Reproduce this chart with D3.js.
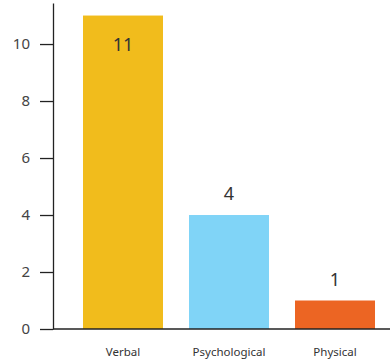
<!DOCTYPE html>
<html>
<head>
<meta charset="utf-8">
<script src="https://cdn.jsdelivr.net/npm/d3@7"></script>
<style>
  body { margin: 0; background: #fff; }
  svg { display: block; font-family: "Noto Sans", sans-serif; }
</style>
</head>
<body>
<div id="chart"></div>
<script>
  var categories = ['Verbal', 'Psychological', 'Physical'];
  var values = [11, 4, 1];
  var colors = ['#f1bc1c', '#80d4f7', '#ec6523'];
  var yTicks = [0, 2, 4, 6, 8, 10];

  var width = 390;
  var height = 364;
  var axisX = 53;       // y axis position
  var baseY = 329;      // zero line

  var svg = d3.select('#chart')
    .append('svg')
    .attr('width', width)
    .attr('height', height);

  var x = d3.scaleBand()
    .domain(categories)
    .range([70, 388])
    .paddingInner(0.2453)
    .paddingOuter(0.1226);

  var y = d3.scaleLinear()
    .domain([0, 11.44])
    .range([baseY, 3]);

  // bars
  svg.selectAll('rect.bar')
    .data(values)
    .enter()
    .append('rect')
    .attr('class', 'bar')
    .attr('x', function(d, i) { return x(categories[i]); })
    .attr('y', function(d) { return y(d); })
    .attr('width', x.bandwidth())
    .attr('height', function(d) { return y(0) - y(d); })
    .attr('fill', function(d, i) { return colors[i]; });

  // value labels (inside the bar when it reaches the top)
  svg.selectAll('text.val')
    .data(values)
    .enter()
    .append('text')
    .attr('class', 'val')
    .attr('x', function(d, i) { return x(categories[i]) + x.bandwidth() / 2; })
    .attr('y', function(d) { return y(d) < 30 ? y(d) + 35 : y(d) - 15; })
    .attr('text-anchor', 'middle')
    .attr('font-size', 18)
    .attr('fill', '#333')
    .text(function(d) { return d; });

  // y axis
  var yAxis = svg.append('g')
    .attr('transform', 'translate(' + axisX + ',0)')
    .call(d3.axisLeft(y).tickValues(yTicks).tickSize(13).tickSizeOuter(0).tickPadding(10));
  yAxis.select('.domain').attr('stroke', '#222').attr('stroke-width', 1.3);
  yAxis.selectAll('.tick line').attr('stroke', '#222').attr('stroke-width', 1.3);
  yAxis.selectAll('.tick text')
    .attr('font-size', 15)
    .attr('font-family', '"Noto Sans", sans-serif')
    .attr('fill', '#444');

  // x axis line
  svg.append('line')
    .attr('x1', axisX)
    .attr('x2', width)
    .attr('y1', y(0))
    .attr('y2', y(0))
    .attr('stroke', '#222')
    .attr('stroke-width', 1.3);

  // category labels
  var xAxis = svg.append('g')
    .attr('transform', 'translate(0,' + baseY + ')')
    .call(d3.axisBottom(x).tickSize(0).tickPadding(19));
  xAxis.select('.domain').remove();
  xAxis.selectAll('.tick text')
    .attr('font-size', 11.5)
    .attr('font-family', '"Noto Sans", sans-serif')
    .attr('fill', '#333');
</script>
</body>
</html>
